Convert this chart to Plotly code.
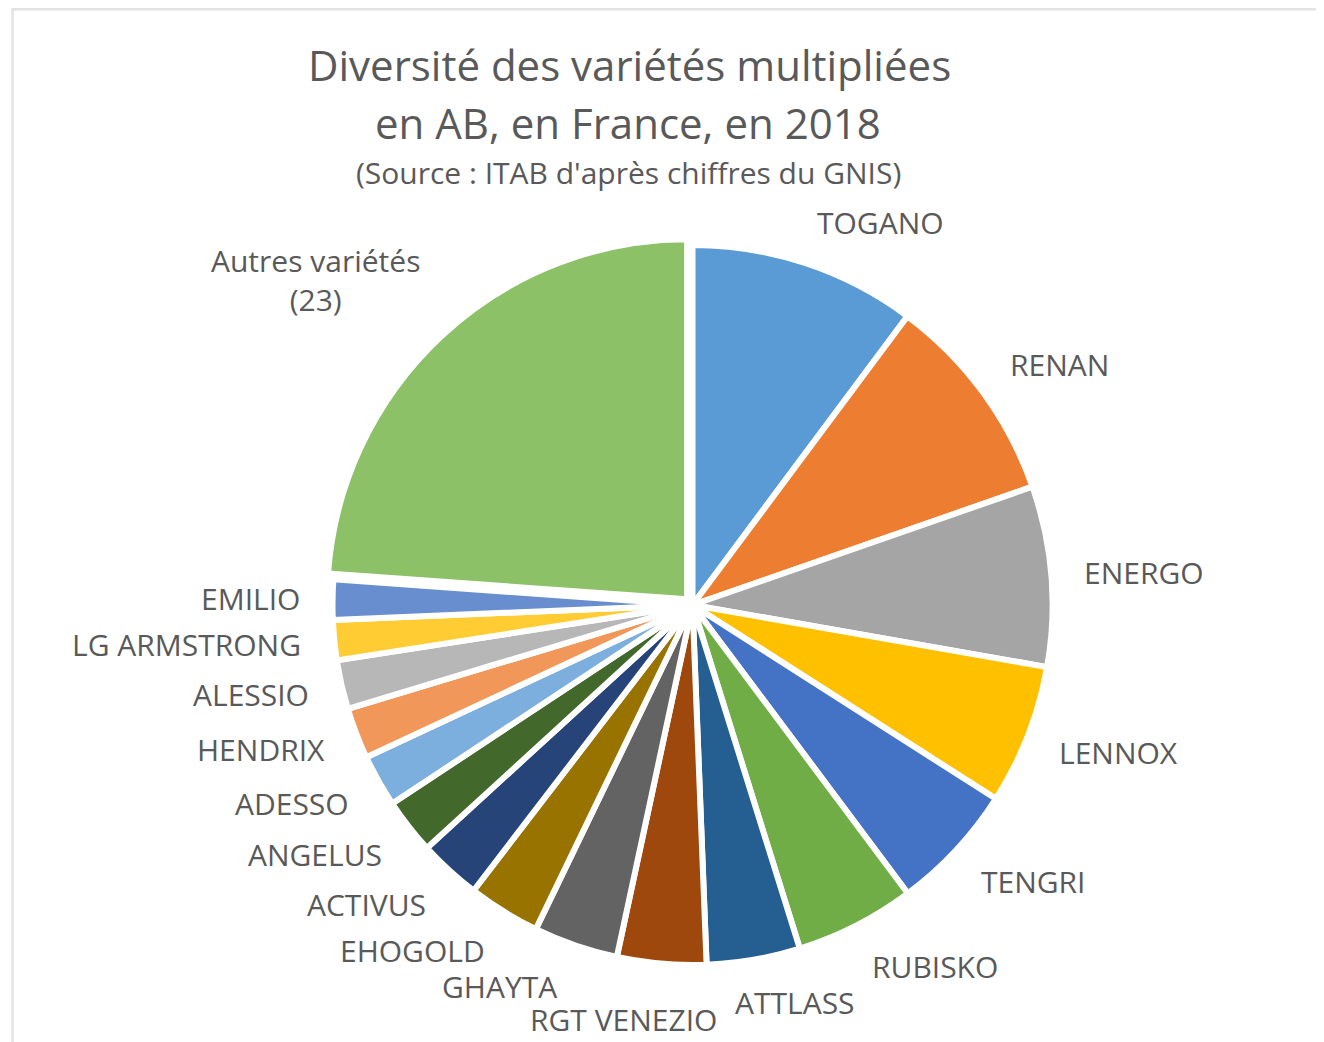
import math
import plotly.graph_objects as go

# ---- data (% of multiplied surface) ----
varieties = ["TOGANO", "RENAN", "ENERGO", "LENNOX", "TENGRI", "RUBISKO", "ATTLASS",
             "RGT VENEZIO", "GHAYTA", "EHOGOLD", "ACTIVUS", "ANGELUS", "ADESSO",
             "HENDRIX", "ALESSIO", "LG ARMSTRONG", "EMILIO", "Autres variétés<br>(23)"]
shares = [10.2, 9.5, 8.1, 6.3, 5.75, 5.4, 4.2, 4.0, 3.8, 3.25, 2.8, 2.5, 2.35,
          2.3, 2.2, 1.8, 1.8, 23.9]

# ---- styles ----
colors = ["#5B9BD5", "#ED7D31", "#A5A5A5", "#FFC000", "#4472C4", "#70AD47", "#255E91",
          "#9E480E", "#636363", "#997300", "#264478", "#43682B", "#7CAFDD", "#F1975A",
          "#B7B7B7", "#FFCD33", "#698ED0", "#8CC168"]
pulls = [0] * 17 + [0.022]
label_nudge = {"TOGANO": (0, 3), "ATTLASS": (36, -3), "RGT VENEZIO": (-35, 10),
               "GHAYTA": (-6, -2), "Autres variétés<br>(23)": (-4, -12)}  # px (right, down)

OFF = 8                      # page body margin
W, H = 1324 - OFF, 1042 - OFF
CX, CY = 692.5 - OFF, 605.0 - OFF   # pie centre in figure px (from top-left)
R_PATH = 360.0               # slice path radius in px
TXT = "#595959"
FONT = "Open Sans, Segoe UI, sans-serif"
LABEL_SIZE = 30

max_pull = max(pulls)
half = R_PATH * (1 + max_pull)
dom_x = [(CX - half) / W, (CX + half) / W]
dom_y = [(H - CY - half) / H, (H - CY + half) / H]

fig = go.Figure(go.Pie(
    labels=varieties, values=shares, sort=False, direction="clockwise", rotation=0,
    marker=dict(colors=colors, line=dict(color="white", width=6)),
    pull=pulls, textinfo="none", hoverinfo="label+percent", showlegend=False,
    domain=dict(x=dom_x, y=dom_y),
))

# ---- outside labels placed from the slice mid-angles ----
total = sum(shares)
cum = 0.0
annotations = []
R_LAB = 391.0
for name, v in zip(varieties, shares):
    mid = (cum + v / 2) / total * 2 * math.pi
    cum += v
    s, c = math.sin(mid), math.cos(mid)
    px = CX + R_LAB * s
    py = CY - R_LAB * c
    if s > 0.3:
        xa = "left"
    elif s < -0.3:
        xa = "right"
    else:
        xa = "center"
    lines = name.count("<br>") + 1
    h = LABEL_SIZE * lines + 12 * (lines - 1)
    ysh = c * h / 2
    nx, ny = label_nudge.get(name, (0, 0))
    annotations.append(dict(
        x=px / W, y=1 - py / H, xref="paper", yref="paper",
        text=name, showarrow=False, xanchor=xa, yanchor="middle",
        xshift=nx, yshift=ysh - ny, align="center",
        font=dict(family=FONT, size=LABEL_SIZE, color=TXT),
    ))

# ---- title ----
annotations += [
    dict(x=(629 - OFF) / W, y=1 - (65 - OFF) / H, xref="paper", yref="paper", showarrow=False,
         text="Diversité des variétés multipliées", xanchor="center", yanchor="middle",
         font=dict(family=FONT, size=42, color=TXT)),
    dict(x=(628 - OFF) / W, y=1 - (122 - OFF) / H, xref="paper", yref="paper", showarrow=False,
         text="en AB, en France, en 2018", xanchor="center", yanchor="middle",
         font=dict(family=FONT, size=42, color=TXT)),
    dict(x=(628 - OFF) / W, y=1 - (173 - OFF) / H, xref="paper", yref="paper", showarrow=False,
         text="(Source : ITAB d'après chiffres du GNIS)", xanchor="center", yanchor="middle",
         font=dict(family=FONT, size=30, color=TXT)),
]

fig.update_layout(
    width=W, height=H, margin=dict(l=0, r=0, t=0, b=0),
    paper_bgcolor="white", plot_bgcolor="white",
    annotations=annotations,
    shapes=[dict(type="rect", xref="paper", yref="paper",
                 x0=(12.5 - OFF) / W, x1=(1321.5 - OFF) / W, y0=-0.02, y1=1 - 1.3 / H,
                 line=dict(color="#E3E3E3", width=2.5), fillcolor="rgba(0,0,0,0)")],
)

fig.write_html("out.html")
